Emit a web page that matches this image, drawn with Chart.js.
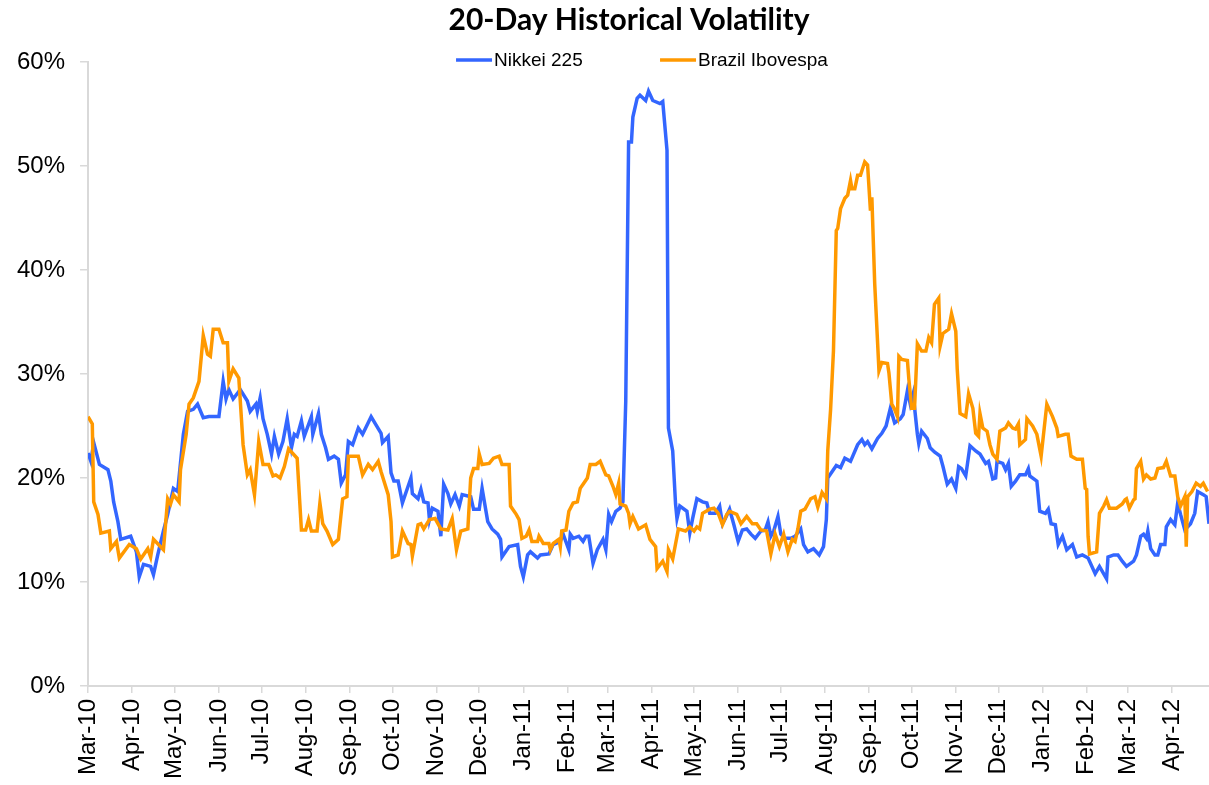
<!DOCTYPE html>
<html>
<head>
<meta charset="utf-8">
<title>20-Day Historical Volatility</title>
<script src="https://cdn.jsdelivr.net/npm/chart.js@4.4.1/dist/chart.umd.min.js"></script>
<style>
  html, body { margin: 0; padding: 0; background: #fff; }
  #wrap { width: 1209px; height: 785px; }
</style>
</head>
<body>
<div id="wrap"><canvas id="volChart"></canvas></div>
<script>
// x = days since 1 Mar 2010, y = 20-day historical volatility (%)
const chartTitle = '20-Day Historical Volatility';

const monthLabels = ['Mar-10', 'Apr-10', 'May-10', 'Jun-10', 'Jul-10', 'Aug-10', 'Sep-10', 'Oct-10',
  'Nov-10', 'Dec-10', 'Jan-11', 'Feb-11', 'Mar-11', 'Apr-11', 'May-11', 'Jun-11', 'Jul-11', 'Aug-11',
  'Sep-11', 'Oct-11', 'Nov-11', 'Dec-11', 'Jan-12', 'Feb-12', 'Mar-12', 'Apr-12'];

const yTicks = [0, 10, 20, 30, 40, 50, 60];

const nikkei = [[0,22.4],[2,21.6],[4,23.4],[8,21.3],[14,20.8],[16,19.7],[18,17.7],[21,15.8],[23,14.1],[30,14.4],
  [34,12.9],[36,10.5],[39,11.7],[44,11.5],[46,10.7],[49,12.6],[53,14.9],[56,16.5],[60,19.0],[63,18.7],[67,24.2],
  [70,26.4],[74,26.6],[77,27.1],[81,25.8],[85,25.9],[92,25.9],[95,29.3],[97,27.6],[99,28.5],[102,27.6],[107,28.5],
  [112,27.4],[114,26.4],[118,27.1],[119,26.4],[121,27.7],[123,25.7],[126,24.2],[129,22.3],[131,24.0],[134,22.3],
  [137,23.5],[140,25.7],[143,22.9],[145,24.2],[147,24.0],[150,25.5],[152,24.0],[157,25.9],[158,24.2],[162,26.2],
  [164,24.2],[167,22.9],[169,21.8],[173,22.1],[176,21.8],[178,19.5],[181,20.3],[183,23.5],[186,23.2],[190,24.8],
  [193,24.2],[199,25.9],[202,25.2],[206,24.3],[207,23.4],[211,24.0],[213,20.5],[215,19.7],[218,19.7],[221,17.6],
  [225,19.2],[227,20.0],[228,18.5],[232,18.0],[234,18.9],[236,17.7],[239,17.6],[240,16.0],[242,17.1],[246,16.8],
  [248,14.4],[250,19.4],[253,18.5],[255,17.5],[258,18.4],[261,17.3],[263,18.4],[269,18.2],[271,17.0],[275,17.0],
  [277,19.0],[281,15.8],[284,15.1],[288,14.6],[290,14.1],[291,12.4],[296,13.4],[302,13.6],[304,11.5],[306,10.5],
  [309,12.6],[311,12.9],[316,12.3],[318,12.6],[324,12.7],[327,13.6],[332,13.9],[334,14.6],[338,13.1],[339,14.6],
  [341,14.2],[345,14.4],[348,13.9],[350,14.4],[352,14.4],[355,11.8],[358,13.1],[362,14.1],[364,13.1],[366,16.5],
  [368,15.8],[371,16.8],[374,17.1],[376,17.7],[378,27.4],[380,52.3],[382,52.3],[383,54.7],[386,56.5],[388,56.8],
  [392,56.3],[394,57.2],[397,56.3],[402,56.0],[404,56.2],[407,51.5],[408,24.8],[411,22.6],[413,17.5],[414,16.1],
  [416,17.3],[421,16.8],[423,14.7],[425,16.1],[428,18.0],[432,17.7],[435,17.6],[437,16.6],[441,16.6],[444,17.3],
  [446,15.6],[448,16.1],[451,17.0],[454,15.5],[457,13.9],[460,15.0],[463,15.1],[466,14.6],[469,14.2],[473,14.9],
  [476,15.0],[478,15.8],[480,14.4],[482,14.9],[485,16.3],[487,14.6],[490,14.2],[494,14.2],[497,14.4],[501,15.1],
  [503,13.6],[506,12.9],[510,13.2],[514,12.6],[517,13.4],[519,16.0],[520,20.0],[523,20.6],[526,21.2],[529,21.0],
  [532,21.9],[536,21.6],[541,23.2],[544,23.7],[546,23.2],[548,23.5],[551,22.8],[555,23.8],[558,24.3],[561,25.0],
  [564,26.7],[567,25.3],[571,25.7],[573,26.1],[576,28.4],[578,27.1],[580,28.1],[583,24.2],[584,23.3],[586,24.5],
  [590,23.8],[592,22.9],[595,22.5],[599,22.1],[601,21.1],[604,19.4],[607,19.9],[610,19.0],[612,21.1],[614,20.9],
  [617,20.2],[620,23.1],[624,22.6],[627,22.3],[631,21.4],[633,21.6],[636,19.9],[638,20.0],[639,21.6],[643,21.4],
  [645,20.8],[647,21.4],[649,19.2],[652,19.7],[655,20.3],[659,20.3],[661,20.9],[662,20.2],[667,19.7],[669,16.8],
  [673,16.6],[675,17.0],[677,15.6],[680,15.5],[682,13.6],[685,14.4],[688,13.1],[692,13.6],[695,12.4],[699,12.6],
  [703,12.3],[708,10.8],[711,11.5],[716,10.3],[717,12.4],[721,12.6],[724,12.6],[727,12.0],[730,11.5],[735,12.0],
  [737,12.6],[740,14.4],[742,14.6],[744,14.2],[745,14.9],[747,13.2],[750,12.6],[752,12.6],[754,13.6],[757,13.6],
  [758,15.3],[761,16.0],[764,15.5],[766,17.6],[768,16.5],[771,15.0],[775,15.6],[778,16.6],[780,18.7],[784,18.4],
  [786,18.2],[788,15.6]];

const ibovespa = [[0,25.9],[3,25.2],[4,17.7],[7,16.5],[9,14.7],[15,14.9],[16,13.2],[20,13.9],[22,12.3],[29,13.6],
  [34,13.2],[37,12.2],[42,13.2],[44,12.4],[46,14.1],[53,13.1],[56,18.0],[58,17.5],[60,18.4],[64,17.7],[65,20.8],
  [69,24.2],[71,27.1],[74,27.7],[78,29.3],[81,33.7],[84,31.9],[86,31.7],[88,34.3],[92,34.3],[95,33.0],[98,33.0],
  [99,29.3],[102,30.5],[106,29.6],[109,23.2],[112,20.3],[114,20.8],[117,18.4],[120,23.5],[123,21.3],[127,21.3],
  [130,20.2],[132,20.3],[135,20.0],[138,21.1],[141,22.8],[147,21.9],[150,15.0],[153,15.0],[155,16.0],[157,14.9],
  [161,14.9],[163,17.6],[165,15.6],[168,14.9],[172,13.6],[176,14.1],[179,18.0],[182,18.2],[183,22.1],[190,22.1],
  [193,20.3],[197,21.3],[200,20.8],[204,21.6],[206,20.6],[211,18.4],[213,15.8],[214,12.4],[218,12.6],[221,14.9],
  [225,13.7],[227,13.6],[228,12.5],[232,15.5],[234,15.6],[236,15.1],[240,16.0],[244,16.1],[248,15.1],[253,15.0],
  [256,16.1],[259,13.1],[262,14.9],[267,15.1],[269,20.0],[271,20.9],[274,20.9],[275,22.3],[277,21.3],[282,21.4],
  [285,21.9],[289,22.1],[291,21.3],[296,21.3],[297,17.3],[301,16.5],[303,16.0],[305,14.2],[308,14.4],[310,15.0],
  [312,13.9],[316,13.9],[317,14.4],[320,13.7],[324,13.7],[325,13.1],[327,13.7],[331,14.1],[332,13.4],[333,14.9],
  [336,15.0],[338,16.8],[341,17.6],[344,17.7],[346,19.0],[348,19.4],[351,20.0],[353,21.3],[357,21.3],[360,21.6],
  [364,20.3],[366,20.2],[369,19.2],[371,18.4],[373,19.5],[374,17.5],[378,17.3],[380,16.6],[381,15.6],[383,16.3],
  [387,15.1],[392,15.5],[395,14.1],[399,13.4],[400,11.3],[404,12.0],[407,11.0],[408,13.1],[411,12.2],[415,15.1],
  [420,14.9],[423,15.3],[426,14.9],[428,15.3],[430,15.1],[432,16.6],[437,17.0],[440,17.1],[443,16.6],[446,15.5],
  [449,16.5],[451,16.8],[456,16.5],[459,15.6],[463,16.3],[467,15.6],[470,15.6],[473,15.0],[477,14.9],[480,12.7],
  [483,14.6],[486,13.4],[489,14.6],[492,12.9],[495,14.1],[497,13.9],[499,15.1],[501,16.8],[504,17.0],[508,18.0],
  [511,18.2],[513,17.2],[516,18.6],[519,18.0],[520,22.6],[522,26.6],[524,32.2],[526,43.8],[527,44.0],[529,45.9],
  [532,46.9],[534,47.2],[536,48.6],[537,47.8],[539,47.8],[541,49.1],[543,49.1],[546,50.4],[548,50.1],[550,45.7],
  [551,47.0],[553,38.7],[556,30.3],[558,31.1],[562,31.0],[563,30.1],[565,27.1],[567,26.6],[569,25.9],[570,31.7],
  [572,31.4],[576,31.3],[577,29.5],[579,26.7],[581,26.7],[583,32.9],[586,32.2],[589,32.2],[591,33.5],[593,33.0],
  [595,36.7],[598,37.3],[599,32.7],[601,33.9],[605,34.3],[607,35.8],[610,34.1],[611,30.5],[613,26.2],[617,25.9],
  [619,28.1],[622,26.7],[624,24.3],[626,24.0],[627,26.2],[629,24.8],[632,24.5],[634,23.2],[636,22.3],[639,21.8],
  [641,24.5],[645,24.8],[647,25.3],[650,24.8],[652,24.7],[654,25.2],[655,23.2],[659,23.7],[660,25.7],[664,25.0],
  [667,24.2],[670,22.1],[674,27.1],[678,25.9],[681,24.8],[682,24.0],[687,24.2],[689,24.2],[691,22.1],[695,21.8],
  [699,21.8],[701,19.0],[702,18.9],[703,14.4],[704,12.7],[709,12.9],[711,16.6],[714,17.3],[716,17.9],[718,17.1],
  [723,17.1],[727,17.5],[729,17.9],[730,18.0],[732,17.1],[735,17.9],[736,18.0],[737,20.9],[740,21.6],[742,19.9],
  [744,20.3],[747,19.9],[750,20.0],[752,20.9],[756,21.0],[758,21.6],[761,20.2],[764,20.2],[766,18.2],[768,17.3],
  [771,18.2],[772,13.4],[773,18.2],[776,18.7],[779,19.5],[782,19.2],[784,19.5],[787,18.7]];

const LAST_DAY = 788;
const FONT = "'Liberation Sans', Arial, sans-serif";
const AXIS_GREY = '#d9d9d9';

// day offset of the 1st of each labelled month
const startMs = Date.UTC(2010, 2, 1);
const monthDays = monthLabels.map((_, i) => Math.round((Date.UTC(2010, 2 + i, 1) - startMs) / 86400000));

function toPoints(series) {
  return series.map(p => ({x: p[0], y: p[1]}));
}

// title + legend drawn by hand: the legend sits on the top edge of the plot
// and the title is centred a bit right of the canvas middle, like the original
const headerPlugin = {
  id: 'header',
  afterDraw(chart) {
    const {ctx, chartArea} = chart;
    ctx.save();

    ctx.font = 'bold 30px Lato, ' + FONT;
    ctx.fillStyle = '#000';
    ctx.textAlign = 'center';
    ctx.textBaseline = 'middle';
    ctx.fillText(chartTitle, chartArea.left + 541, 20);

    const offsets = [368, 572];
    const y = chartArea.top - 2;
    ctx.font = '19px ' + FONT;
    ctx.textAlign = 'left';
    chart.data.datasets.forEach((ds, i) => {
      const x = chartArea.left + offsets[i];
      ctx.strokeStyle = ds.borderColor;
      ctx.lineWidth = 3.5;
      ctx.beginPath();
      ctx.moveTo(x, y);
      ctx.lineTo(x + 36, y);
      ctx.stroke();
      ctx.fillStyle = '#000';
      ctx.fillText(ds.label, x + 38, y + 1);
    });
    ctx.restore();
  }
};

Chart.defaults.font.family = FONT;

new Chart(document.getElementById('volChart').getContext('2d'), {
  type: 'line',
  data: {
    datasets: [
      {
        label: 'Nikkei 225',
        data: toPoints(nikkei),
        borderColor: '#3366FF',
        borderWidth: 3.5,
        pointRadius: 0,
        tension: 0,
        order: 1
      },
      {
        label: 'Brazil Ibovespa',
        data: toPoints(ibovespa),
        borderColor: '#FF9900',
        borderWidth: 3.5,
        pointRadius: 0,
        tension: 0,
        order: 0
      }
    ]
  },
  options: {
    responsive: true,
    maintainAspectRatio: false,
    animation: false,
    devicePixelRatio: 1,
    layout: { padding: { top: 62, left: 2, right: 0, bottom: 0 } },
    plugins: {
      legend: { display: false },
      tooltip: { enabled: false },
      title: { display: false }
    },
    scales: {
      x: {
        type: 'linear',
        min: 0,
        max: LAST_DAY,
        afterBuildTicks: axis => { axis.ticks = monthDays.map(v => ({value: v})); },
        grid: { drawOnChartArea: false, tickLength: 7, color: AXIS_GREY, lineWidth: 1.5 },
        border: { color: AXIS_GREY, width: 2 },
        ticks: {
          autoSkip: false,
          minRotation: 90,
          maxRotation: 90,
          padding: 6,
          color: '#000',
          font: { size: 24 },
          callback: (v, i) => monthLabels[i]
        }
      },
      y: {
        min: yTicks[0],
        max: yTicks[yTicks.length - 1],
        afterBuildTicks: axis => { axis.ticks = yTicks.map(v => ({value: v})); },
        grid: { drawOnChartArea: false, tickLength: 8, color: AXIS_GREY, lineWidth: 1.5 },
        border: { color: AXIS_GREY, width: 2 },
        ticks: {
          padding: 15,
          color: '#000',
          font: { size: 24 },
          callback: v => v + '%'
        }
      }
    }
  },
  plugins: [headerPlugin]
});
</script>
</body>
</html>
